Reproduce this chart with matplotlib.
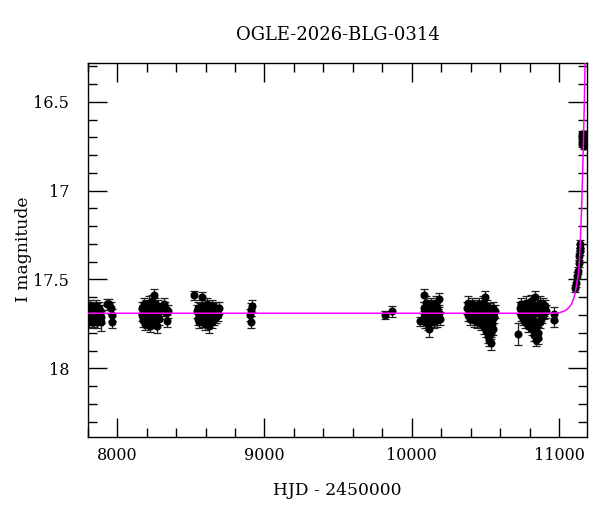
import matplotlib
matplotlib.use('Agg')
import numpy as np
import matplotlib.pyplot as plt
from matplotlib.ticker import MultipleLocator

plt.rcParams['font.family'] = ['DejaVu Serif']

title = 'OGLE-2026-BLG-0314'

# (HJD-2450000, I mag, error) per observing season
season1 = [(7801, 17.68, .035), (7804, 17.71, .035), (7807, 17.66, .035), (7810, 17.73, .035),
           (7812, 17.69, .035), (7815, 17.65, .035), (7818, 17.72, .035), (7821, 17.70, .035),
           (7824, 17.67, .035), (7826, 17.74, .035), (7829, 17.68, .035), (7832, 17.71, .035),
           (7835, 17.66, .035), (7838, 17.70, .035), (7841, 17.73, .035), (7844, 17.67, .035),
           (7847, 17.69, .035), (7850, 17.72, .035), (7853, 17.65, .035), (7856, 17.70, .035),
           (7859, 17.68, .035), (7862, 17.74, .035), (7865, 17.67, .035), (7868, 17.71, .035),
           (7871, 17.69, .035), (7874, 17.66, .035), (7877, 17.72, .035), (7880, 17.70, .035),
           (7884, 17.68, .035), (7888, 17.71, .035), (7893, 17.74, .05), (7928, 17.64, .03),
           (7945, 17.64, .03), (7955, 17.66, .035), (7962, 17.70, .035), (7965, 17.74, .035)]
season2 = [(8168, 17.70, .035), (8171, 17.66, .035), (8174, 17.73, .035), (8177, 17.68, .035),
           (8180, 17.64, .035), (8183, 17.71, .035), (8186, 17.75, .035), (8189, 17.67, .035),
           (8192, 17.69, .035), (8195, 17.72, .035), (8198, 17.65, .035), (8201, 17.70, .035),
           (8204, 17.74, .035), (8207, 17.68, .035), (8210, 17.66, .035), (8213, 17.71, .035),
           (8216, 17.63, .035), (8219, 17.69, .035), (8222, 17.76, .035), (8225, 17.67, .035),
           (8228, 17.72, .035), (8231, 17.65, .035), (8234, 17.70, .035), (8237, 17.62, .035),
           (8240, 17.68, .035), (8243, 17.74, .035), (8246, 17.66, .035), (8249, 17.71, .035),
           (8251, 17.59, .035), (8254, 17.69, .035), (8257, 17.64, .035), (8260, 17.73, .035),
           (8263, 17.67, .035), (8266, 17.70, .035), (8270, 17.76, .04), (8274, 17.65, .035),
           (8278, 17.69, .035), (8283, 17.72, .035), (8288, 17.67, .035), (8320, 17.64, .035),
           (8325, 17.66, .035), (8330, 17.69, .035), (8335, 17.735, .035), (8342, 17.68, .035)]
season3 = [(8523, 17.59, .025), (8573, 17.60, .03), (8542, 17.68, .035), (8546, 17.72, .035),
           (8550, 17.66, .035), (8554, 17.70, .035), (8558, 17.74, .035), (8562, 17.67, .035),
           (8566, 17.69, .035), (8570, 17.71, .035), (8577, 17.65, .035), (8581, 17.73, .035),
           (8585, 17.68, .035), (8589, 17.70, .035), (8593, 17.75, .035), (8597, 17.66, .035),
           (8601, 17.72, .035), (8605, 17.69, .035), (8609, 17.64, .035), (8613, 17.71, .035),
           (8617, 17.67, .035), (8621, 17.76, .04), (8625, 17.70, .035), (8629, 17.66, .035),
           (8633, 17.72, .035), (8637, 17.68, .035), (8641, 17.74, .035), (8645, 17.65, .035),
           (8649, 17.70, .035), (8653, 17.67, .035), (8658, 17.72, .035), (8663, 17.69, .035),
           (8668, 17.66, .035), (8673, 17.71, .035), (8679, 17.68, .035), (8685, 17.70, .035),
           (8692, 17.66, .035)]
season4 = [(8905, 17.70, .035), (8908, 17.74, .035), (8911, 17.67, .035), (8914, 17.65, .035),
           (9818, 17.70, .025), (9863, 17.68, .03)]
season5 = [(10055, 17.735, .025), (10080, 17.59, .035), (10083, 17.66, .035), (10086, 17.71, .035),
           (10089, 17.68, .035), (10092, 17.74, .035), (10095, 17.63, .035), (10098, 17.70, .035),
           (10101, 17.67, .035), (10104, 17.72, .035), (10107, 17.65, .035), (10110, 17.69, .035),
           (10113, 17.75, .035), (10116, 17.78, .045), (10119, 17.66, .035), (10122, 17.71, .035),
           (10125, 17.68, .035), (10128, 17.73, .035), (10131, 17.64, .035), (10134, 17.70, .035),
           (10137, 17.67, .035), (10140, 17.72, .035), (10143, 17.69, .035), (10146, 17.65, .035),
           (10149, 17.74, .035), (10152, 17.70, .035), (10155, 17.67, .035), (10158, 17.71, .035),
           (10162, 17.63, .035), (10166, 17.68, .035), (10170, 17.73, .035), (10174, 17.66, .035),
           (10178, 17.70, .035), (10183, 17.61, .035), (10188, 17.69, .035), (10193, 17.72, .035)]
season6 = [(10375, 17.66, .035), (10380, 17.70, .035), (10385, 17.63, .035), (10390, 17.68, .035),
           (10395, 17.72, .035), (10400, 17.66, .035), (10405, 17.69, .035), (10410, 17.64, .035),
           (10415, 17.71, .035), (10420, 17.67, .035), (10425, 17.73, .035), (10430, 17.65, .035),
           (10435, 17.70, .035), (10440, 17.68, .035), (10445, 17.74, .035), (10450, 17.66, .035),
           (10455, 17.71, .035), (10460, 17.64, .035), (10465, 17.69, .035), (10470, 17.75, .035),
           (10474, 17.67, .035), (10478, 17.72, .035), (10482, 17.63, .035), (10486, 17.70, .035),
           (10490, 17.77, .035), (10494, 17.66, .035), (10497, 17.73, .035), (10500, 17.60, .035),
           (10503, 17.68, .035), (10506, 17.79, .035), (10509, 17.71, .035), (10512, 17.65, .035),
           (10515, 17.82, .035), (10518, 17.74, .035), (10521, 17.69, .035), (10524, 17.76, .035),
           (10527, 17.84, .035), (10530, 17.67, .035), (10533, 17.72, .035), (10536, 17.80, .035),
           (10539, 17.86, .035), (10542, 17.70, .035), (10546, 17.75, .035), (10550, 17.66, .035),
           (10555, 17.78, .035), (10560, 17.71, .035), (10566, 17.68, .035)]
season7 = [(10724, 17.806, .06), (10735, 17.66, .035), (10740, 17.70, .035), (10745, 17.64, .035),
           (10750, 17.68, .035), (10755, 17.72, .035), (10760, 17.66, .035), (10765, 17.70, .035),
           (10770, 17.74, .035), (10775, 17.63, .035), (10780, 17.68, .035), (10785, 17.71, .035),
           (10790, 17.76, .035), (10795, 17.66, .035), (10800, 17.70, .035), (10804, 17.73, .035),
           (10808, 17.62, .035), (10812, 17.68, .035), (10816, 17.78, .035), (10820, 17.71, .035),
           (10824, 17.65, .035), (10828, 17.74, .035), (10832, 17.81, .035), (10836, 17.60, .035),
           (10840, 17.69, .035), (10844, 17.84, .035), (10848, 17.76, .035), (10852, 17.66, .035),
           (10856, 17.83, .035), (10860, 17.80, .035), (10864, 17.68, .035), (10868, 17.63, .035),
           (10872, 17.74, .035), (10876, 17.70, .035), (10880, 17.66, .035), (10885, 17.71, .035),
           (10890, 17.64, .035), (10895, 17.69, .035), (10900, 17.67, .035), (10906, 17.65, .035),
           (10912, 17.68, .035), (10967, 17.695, .04), (10968, 17.727, .04)]
season8 = [(11108, 17.55, .02), (11116, 17.52, .02), (11124, 17.48, .02), (11130, 17.45, .02),
           (11134, 17.41, .02), (11137, 17.37, .02), (11140, 17.34, .02), (11143, 17.32, .02),
           (11145, 17.30, .02), (11153, 16.71, .015), (11156, 16.68, .015), (11159, 16.74, .015),
           (11162, 16.70, .015), (11165, 16.72, .015), (11168, 16.69, .015), (11171, 16.75, .015),
           (11174, 16.71, .015), (11177, 16.68, .015), (11180, 16.73, .015), (11183, 16.70, .015),
           (11186, 16.72, .015)]

# model light curve
fit_hjd = [7800, 10950, 11000, 11030, 11055, 11070, 11085, 11098, 11108, 11119, 11127,
           11133, 11138, 11141, 11147, 11153, 11158, 11164, 11170, 11175, 11182]
fit_mag = [17.690, 17.690, 17.687, 17.680, 17.668, 17.655, 17.638, 17.61, 17.585, 17.53, 17.49,
           17.46, 17.40, 17.35, 17.24, 17.11, 16.97, 16.79, 16.58, 16.37, 16.10]

fig = plt.figure(figsize=(6, 5.12), dpi=100)
ax = fig.add_axes([0.1463, 0.147, 0.832, 0.7305])

for season in [season1, season2, season3, season4, season5, season6, season7, season8]:
    data = np.array(season)
    ax.errorbar(data[:, 0], data[:, 1], yerr=data[:, 2], fmt='o', color='k', ecolor='#222222',
                ms=4.8, elinewidth=0.9, capsize=2.8, capthick=0.9, zorder=2)

ax.plot(fit_hjd, fit_mag, color='#ff00ff', lw=1.1, zorder=3)

ax.set_xlim(7800, 11190)
ax.set_ylim(18.385, 16.28)
ax.xaxis.set_major_locator(MultipleLocator(1000))
ax.xaxis.set_minor_locator(MultipleLocator(200))
ax.yaxis.set_major_locator(MultipleLocator(0.5))
ax.yaxis.set_minor_locator(MultipleLocator(0.1))
ax.yaxis.set_major_formatter(plt.FuncFormatter(lambda v, p: ('%g' % v)))
ax.tick_params(which='both', direction='in', top=True, right=True, width=1, color='k')
ax.tick_params(which='major', length=13.5)
ax.tick_params(which='minor', length=6.5)
ax.tick_params(axis='x', which='major', pad=7.5, labelsize=11.5)
ax.tick_params(axis='y', which='major', pad=13.5, labelsize=11.5)
for sp in ax.spines.values():
    sp.set_linewidth(1.0)

ax.set_xlabel('HJD - 2450000', fontsize=12.3, labelpad=13)
ax.set_ylabel('I magnitude', fontsize=12.3, labelpad=1)
ax.set_title(title, fontsize=13, pad=16)

fig.savefig('out.png', dpi=100)
